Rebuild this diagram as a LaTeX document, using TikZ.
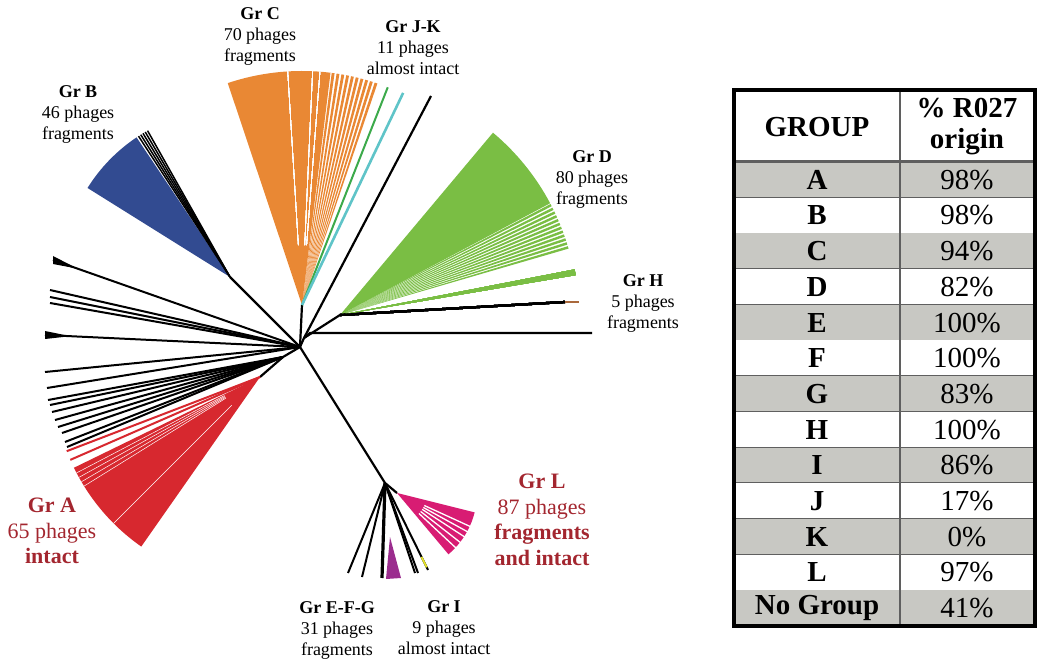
\documentclass[tikz,border=0pt]{standalone}
\usepackage{fontspec}
\setmainfont{Liberation Serif}
\usetikzlibrary{calc}
\definecolor{gorange}{RGB}{233,136,52}
\definecolor{gblue}{RGB}{50,75,145}
\definecolor{ggreen}{RGB}{122,190,68}
\definecolor{gjgreen}{RGB}{60,170,75}
\definecolor{gcyan}{RGB}{95,196,200}
\definecolor{gred}{RGB}{215,40,47}
\definecolor{gmagenta}{RGB}{216,28,115}
\definecolor{gpurple}{RGB}{155,45,142}
\definecolor{gyellow}{RGB}{232,230,40}
\definecolor{gbrown}{RGB}{170,105,60}
\definecolor{mred}{RGB}{163,38,47}
\definecolor{tgray}{RGB}{200,200,195}
\definecolor{tline}{RGB}{95,95,95}
\tikzset{branch/.style = {black, line width = 2.2pt}}
\tikzset{leaf/.style = {black, line width = 2pt}}
\tikzset{gap/.style = {white, line width = 0.6pt}}
\tikzset{lab/.style = {align = center, font = \fontsize{18}{21}\selectfont}}
\tikzset{biglab/.style = {align = center, text = mred, font = \fontsize{22}{25.5}\selectfont}}
\tikzset{cell/.style = {align = center, inner sep = 0, font = \fontsize{29}{31}\selectfont}}
\newcommand{\fan}[5]{\fill [#1] (#2) -- ++(#3:#5) arc [start angle = #3, end angle = #4, radius = #5] -- cycle;}

\begin{document}
\begin{tikzpicture}[x = 1pt, y = 1pt]
    \useasboundingbox (0, 0) rectangle (1045, 665);

    \coordinate (root) at (300, 318);
    \coordinate (nC) at (302, 360);
    \coordinate (nR) at (304, 327);
    \coordinate (nD) at (340, 350);
    \coordinate (nB) at (230, 388);
    \coordinate (nA) at (283, 308);
    \coordinate (nRed) at (260, 288);
    \coordinate (nL) at (385, 182);
    \coordinate (nM) at (397, 172);

    \draw [branch] (root) -- (nC);
    \draw [branch] (root) -- (nR) -- (nD);
    \draw [branch] (root) -- (nB);
    \draw [branch] (root) -- (nA) -- (nRed);
    \draw [branch] (root) -- (nL) -- (nM);

    \fan{gblue}{nB}{123.8}{148}{168pt}
    \foreach \a in {119.4, 120.3, 121.2, 122.1, 123}
      \draw [leaf, line width = 1.5pt] (nB) -- ++(\a:168pt);

    \fan{gorange}{nC}{83}{108.5}{234pt}
    \foreach \a in {71.2, 72.4, ..., 82.2}
      \fan{gorange}{nC}{\a}{\a+0.7}{234pt}
    \foreach \a in {85.6, 87.4, 93.5}
      \draw [gap] (nC) ++(\a:60pt) -- ++(\a:174pt);
    \draw [gjgreen, line width = 2pt] (nC) -- ++(68.5:234pt);
    \draw [gcyan, line width = 2.6pt] (nC) -- ++(64.5:235pt);
    \draw [branch] (nR) -- (431, 569);

    \fan{ggreen}{nD}{28}{50}{238pt}
    \foreach \a in {16.2, 17.2, ..., 27.2}
      \fan{ggreen}{nD}{\a}{\a+0.6}{238pt}
    \fan{ggreen}{nD}{9.6}{11}{239pt}
    \draw [branch] (nD) -- (565, 363);
    \draw [gbrown, line width = 2.6pt] (565, 363) -- (579, 363);
    \draw [branch] (nR) -- (310, 332) -- (592, 332);

    \foreach \x/\y in {53/405, 50/375, 50/368, 50/362, 45/330, 45/293, 47/277}
      \draw [leaf] (root) -- (\x, \y);
    \fill ($(root)!0.9!(53, 405)$) -- (53, 409) -- (53, 401) -- cycle;
    \fill ($(root)!0.9!(45, 330)$) -- (45, 334) -- (45, 326) -- cycle;
    \foreach \x/\y in {48/265, 50/260, 52/253, 55/245, 58/238, 62/232, 65/223, 67/218}
      \draw [leaf] (nA) -- (\x, \y);

    \fan{gred}{nRed}{206}{235}{207pt}
    \foreach \a in {201, 203.6}
      \draw [gred, line width = 2pt] (nRed) -- ++(\a:207pt);
    \foreach \a in {207.6, 209, 210.4, 211.8, 225}
      \draw [gap, line width = 0.5pt] (nRed) ++(\a:40pt) -- ++(\a:167pt);

    \foreach \x/\y in {348/92, 362/88, 415/92, 418/92, 428/95}
      \draw [leaf] (nL) -- (\x, \y);
    \draw [black, line width = 3.2pt] (nL) -- (382, 87);
    \fill [gpurple] (390, 128) -- (386, 86) -- (401, 87) -- cycle;
    \draw [gyellow, line width = 1.8pt] ($(nL)!0.85!(428, 95)$) -- ($(nL)!0.97!(428, 95)$);

    \fan{gmagenta}{nM}{-50}{-14}{80pt}
    \foreach \a in {-24.6, -28.8, -33, -38, -43}
      \draw [white, line width = 1.3pt] (nM) ++(\a:30pt) -- ++(\a:52pt);

    \node [lab] (grB) at (78, 551) {\textbf{Gr B}\\46 phages\\fragments};
    \node [lab] (grC) at (260, 629) {\textbf{Gr C}\\70 phages\\fragments};
    \node [lab] (grJK) at (413, 617) {\textbf{Gr J-K}\\11 phages\\almost intact};
    \node [lab] (grD) at (592, 486) {\textbf{Gr D}\\80 phages\\fragments};
    \node [lab] (grH) at (643, 362) {\textbf{Gr H}\\5 phages\\fragments};
    \node [lab] (grEFG) at (337, 35) {\textbf{Gr E-F-G}\\31 phages\\fragments};
    \node [lab] (grI) at (444, 37) {\textbf{Gr I}\\9 phages\\almost intact};
    \node [biglab] (grA) at (52, 134) {\textbf{Gr A}\\65 phages\\\textbf{intact}};
    \node [biglab] (grL) at (542, 145) {\textbf{Gr L}\\87 phages\\\textbf{fragments}\\\textbf{and intact}};

    \foreach \g/\p [count = \i] in {A/98, B/98, C/94, D/82, E/100, F/100, G/83, H/100, I/86, J/17, K/0, L/97, No Group/41} {
      \pgfmathsetmacro{\ytop}{503 - (\i - 1) * 35.69}
      \pgfmathsetmacro{\ybot}{\ytop - 35.69}
      \pgfmathparse{mod(\i, 2) == 1 ? "tgray" : "white"}
      \edef\rowcol{\pgfmathresult}
      \fill [\rowcol] (734, \ybot) rectangle (1035, \ytop);
      \draw [tline, line width = 1.5pt] (734, \ybot) -- (1035, \ybot);
      \node [cell, font = \fontsize{29}{31}\selectfont\bfseries] (grp\i) at (817, {(\ytop + \ybot) / 2}) {\g};
      \node [cell] (pct\i) at (967, {(\ytop + \ybot) / 2}) {\p\%};
    }
    \node [cell, font = \fontsize{29}{31}\selectfont\bfseries] (hgroup) at (817, 538) {GROUP};
    \node [cell, font = \fontsize{29}{31}\selectfont\bfseries] (hpct) at (967, 538) {\% R027\\origin};
    \draw [tline, line width = 3pt] (734, 503) -- (1035, 503);
    \draw [tline, line width = 1.5pt] (900, 575) -- (900, 39);
    \draw [black, line width = 4pt] (734, 39) rectangle (1035, 575);
\end{tikzpicture}
\end{document}
